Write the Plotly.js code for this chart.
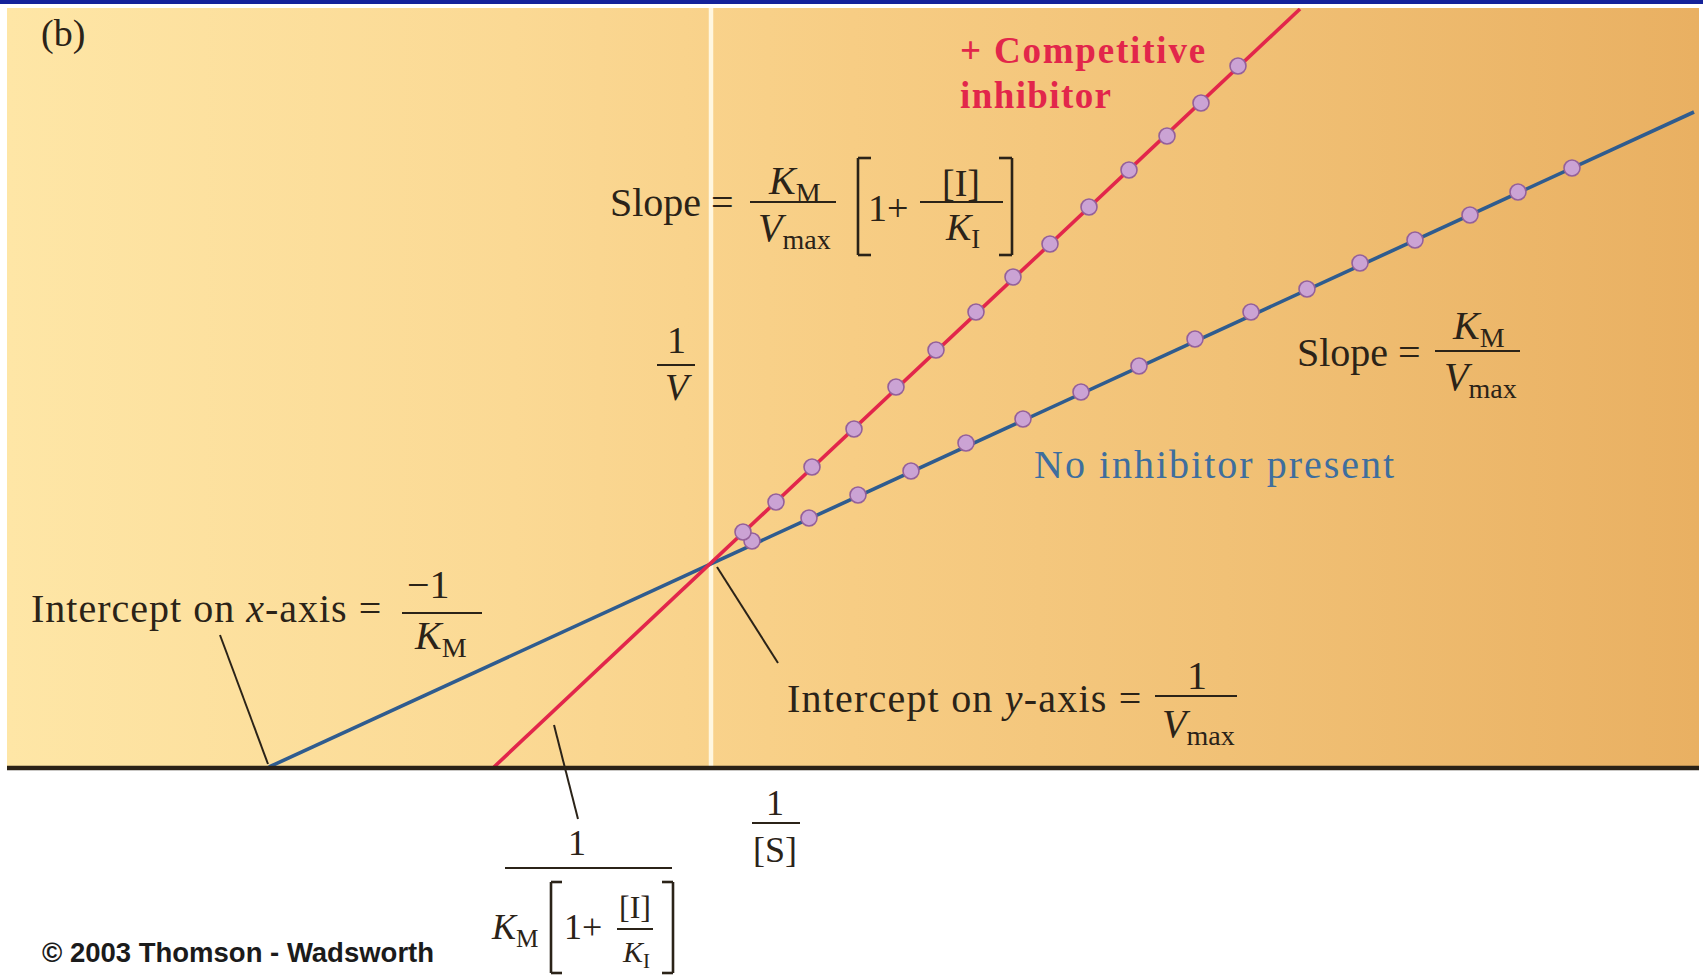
<!DOCTYPE html>
<html>
<head>
<meta charset="utf-8">
<script src="https://cdn.plot.ly/plotly-3.0.1.min.js"></script>
<style>
  html, body { margin:0; padding:0; background:#ffffff; }
  #wrap { position:relative; width:1703px; height:976px; overflow:hidden; }
  #bg { position:absolute; left:7px; top:8px; width:1692px; height:759px;
        background: linear-gradient(to right, #FEE6A6 0%, #FBD994 30%, #F7CD84 50%, #F1C176 72%, #E9B062 100%); }
  #chart { position:absolute; left:0; top:0; width:1703px; height:976px; }
</style>
</head>
<body>
<div id="wrap"><div id="bg"></div><div id="chart"></div></div>
<script>
// ---- data (x = 1/[S], y = 1/V, arbitrary units) ----
const noInhX = [0.41, 0.98, 1.47, 2.00, 2.55, 3.12, 3.70, 4.28, 4.84, 5.40, 5.96, 6.49, 7.04, 7.59, 8.07, 8.61];
const noInhY = [2.26, 2.49, 2.72, 2.96, 3.24, 3.48, 3.75, 4.01, 4.28, 4.55, 4.78, 5.04, 5.27, 5.52, 5.75, 5.99];
const compX  = [0.32, 0.65, 1.01, 1.43, 1.85, 2.25, 2.65, 3.02, 3.39, 3.78, 4.18, 4.56, 4.90, 5.27];
const compY  = [2.35, 2.65, 3.00, 3.38, 3.80, 4.17, 4.55, 4.90, 5.23, 5.60, 5.97, 6.31, 6.64, 7.01];
// straight lines as drawn (ends)
const noInhLineX = [-4.42, 9.83];
const noInhLineY = [0, 6.55];
const compLineX  = [-2.17, 5.89];
const compLineY  = [0, 7.58];
const xRange = [-7.04, 9.88];
const yRange = [0, 7.59];

// ---- layout helpers (pixel -> paper) ----
const L = 7, R = 1699, T = 8, B = 767;
const px = x => (x - L) / (R - L);
const py = y => (B - y) / (B - T);
const INK = '#2B2318';
const SERIF = 'Liberation Serif, Times New Roman, serif';
const RED = '#E2264B', BLUE = '#2F5C8F', LBLUE = '#3E6E9E';

const annotations = [];
const spacing = [];
function ann(x, y, text, o) {
  o = o || {};
  const xa = o.xa || 'center';
  annotations.push({
    xref:'paper', yref:'paper', x:px(x), y:py(y), text:text, showarrow:false,
    xanchor:xa, yanchor:'middle', align: xa === 'left' ? 'left' : 'center',
    font:{family:o.family || SERIF, size:o.size || 40, color:o.color || INK}
  });
  spacing.push(o.ls || 0);
}
const shapes = [];
function seg(x0, y0, x1, y1, w, c) {
  shapes.push({type:'line', xref:'paper', yref:'paper', x0:px(x0), y0:py(y0), x1:px(x1), y1:py(y1),
               line:{color:c || INK, width:w || 2.2}, layer:'above'});
}
function bracket(xOuter, xInner, yTop, yBot) {
  seg(xInner, yTop, xOuter, yTop, 2.6);
  seg(xOuter, yTop, xOuter, yBot, 2.6);
  seg(xOuter, yBot, xInner, yBot, 2.6);
}

// top blue rule
shapes.push({type:'rect', xref:'paper', yref:'paper', x0:px(0), x1:px(1703), y0:py(0), y1:py(4),
             fillcolor:'#14229A', line:{width:0}, layer:'above'});
// y axis (white) and x axis (dark)
shapes.push({type:'line', xref:'x', yref:'paper', x0:0, x1:0, y0:0, y1:1,
             line:{color:'#FFF7E0', width:4.5}, layer:'below'});
shapes.push({type:'line', xref:'paper', yref:'paper', x0:0, x1:1, y0:py(768), y1:py(768),
             line:{color:'#2A2116', width:4.5}, layer:'above'});

// (b)
ann(63, 33, '(b)', {size:38});
// + Competitive inhibitor
ann(958, 50, '<b>+ Competitive</b>', {xa:'left', size:37, color:RED, ls:1.8});
ann(958, 96, '<b>inhibitor</b>', {xa:'left', size:37, color:RED, ls:1.4});

// Slope = KM/Vmax [1 + [I]/KI]
ann(608, 203, 'Slope =', {xa:'left'});
ann(794, 183, '<i>K</i><sub>M</sub>', {size:40});
seg(750, 202, 836, 202);
ann(794, 230, '<i>V</i><sub>max</sub>', {size:40});
bracket(858, 871, 158, 255);
ann(866, 208, '1+', {xa:'left', size:38});
ann(961, 183, '[I]', {size:38});
seg(920, 202, 1003, 202);
ann(962, 230, '<i>K</i><sub>I</sub>', {size:38});
bracket(1012, 999, 158, 255);

// Slope = KM/Vmax (right)
ann(1295, 352, 'Slope =', {xa:'left'});
ann(1478, 328, '<i>K</i><sub>M</sub>', {size:40});
seg(1435, 351, 1520, 351);
ann(1480, 379, '<i>V</i><sub>max</sub>', {size:40});

// No inhibitor present
ann(1032, 465, 'No inhibitor present', {xa:'left', color:LBLUE, size:40, ls:2});

// 1/V
ann(676, 340, '1', {size:38});
seg(657, 365, 695, 365);
ann(678, 387, '<i>V</i>', {size:38});

// Intercept on x-axis = -1/KM
ann(29, 608, 'Intercept on <i>x</i>-axis =', {xa:'left', ls:1.0});
ann(428, 584, '\u22121', {size:40});
seg(402, 613, 482, 613);
ann(441, 638, '<i>K</i><sub>M</sub>', {size:40});
seg(220, 635, 268, 764, 2);

// Intercept on y-axis = 1/Vmax
ann(785, 698, 'Intercept on <i>y</i>-axis =', {xa:'left', ls:1.2});
ann(1197, 675, '1', {size:40});
seg(1155, 696, 1237, 696);
ann(1198, 726, '<i>V</i><sub>max</sub>', {size:40});
seg(717, 567, 778, 663, 2);

// below axis: 1 / (KM [1 + [I]/KI])
seg(554, 725, 578, 819, 2);
ann(577, 843, '1', {size:36});
seg(505, 868, 672, 868);
ann(514, 929, '<i>K</i><sub>M</sub>', {size:36});
bracket(551, 562, 882, 973);
ann(583, 927, '1+', {size:36});
ann(635, 907, '[I]', {size:32});
seg(617, 929, 653, 929, 2);
ann(636, 954, '<i>K</i><sub>I</sub>', {size:30});
bracket(673, 662, 882, 973);

// 1/[S]
ann(775, 803, '1', {size:36});
seg(752, 823, 800, 823);
ann(775, 850, '[S]', {size:36});

// copyright
ann(40, 953, '<b>\u00A9 2003 Thomson - Wadsworth</b>', {xa:'left', size:27.5, family:'Liberation Sans, Arial, sans-serif', color:'#1B1B1B'});

const marker = {size:16, color:'#CBA3D4', line:{color:'#94609A', width:1.6}};
const traces = [
  {x:noInhLineX, y:noInhLineY, mode:'lines', line:{color:BLUE, width:3.6}, hoverinfo:'skip'},
  {x:compLineX,  y:compLineY,  mode:'lines', line:{color:RED,  width:3.6}, hoverinfo:'skip'},
  {x:noInhX, y:noInhY, mode:'markers', marker:marker, name:'No inhibitor present'},
  {x:compX,  y:compY,  mode:'markers', marker:marker, name:'+ Competitive inhibitor'}
];

const layout = {
  width:1703, height:976,
  margin:{l:L, r:1703-R, t:T, b:976-B, pad:0},
  paper_bgcolor:'rgba(0,0,0,0)', plot_bgcolor:'rgba(0,0,0,0)',
  showlegend:false,
  xaxis:{range:xRange, showgrid:false, zeroline:false, showline:false, showticklabels:false, ticks:'', fixedrange:true},
  yaxis:{range:yRange, showgrid:false, zeroline:false, showline:false, showticklabels:false, ticks:'', fixedrange:true},
  annotations:annotations, shapes:shapes
};
Plotly.newPlot('chart', traces, layout, {staticPlot:true, displayModeBar:false}).then(function () {
  document.querySelectorAll('#chart g.annotation').forEach(function (g) {
    const i = +g.getAttribute('data-index');
    const t = g.querySelector('text');
    if (t && spacing[i]) t.style.letterSpacing = spacing[i] + 'px';
  });
});
</script>
</body>
</html>
